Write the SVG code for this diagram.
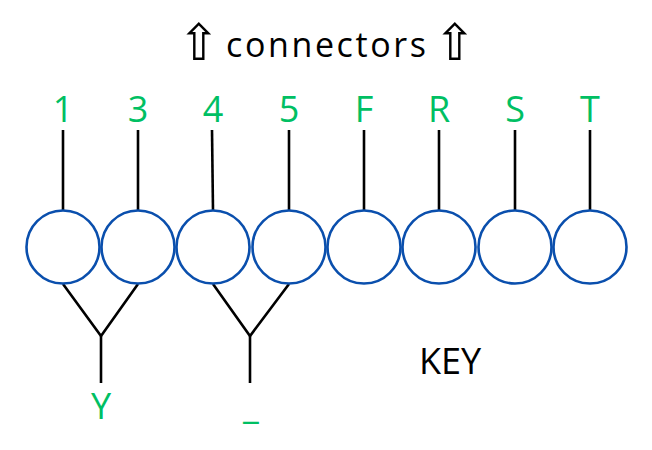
<svg xmlns="http://www.w3.org/2000/svg" width="652" height="450" viewBox="0 0 652 450">
<style>
.c{fill:#fff;stroke:#0a4fad;stroke-width:2.6}
.w{stroke:#000;stroke-width:2.6;fill:none;stroke-linecap:butt}
.g{fill:#00bf63;font-family:"Open Sans","Liberation Sans",sans-serif;font-size:36px;text-anchor:middle}
.k{fill:#000;font-family:"Open Sans","Liberation Sans",sans-serif;font-size:36px}
.a{fill:#000;font-family:"DejaVu Sans",sans-serif;font-size:50px;text-anchor:middle}
</style>
<rect width="652" height="450" fill="#fff"/>
<g id="title">
<text class="a" x="199" y="60">⇧</text>
<text class="k" x="226" y="57" textLength="200" lengthAdjust="spacing" style="font-size:34px">connectors</text>
<text class="a" x="455" y="60">⇧</text>
</g>
<g id="connectors">
<line class="w" x1="63" y1="130" x2="63" y2="211"/>
<line class="w" x1="138" y1="130" x2="138" y2="211"/>
<line class="w" x1="212" y1="130" x2="213" y2="211"/>
<line class="w" x1="289" y1="130" x2="289" y2="211"/>
<line class="w" x1="364" y1="130" x2="364" y2="211"/>
<line class="w" x1="439" y1="130" x2="439" y2="211"/>
<line class="w" x1="515" y1="130" x2="515" y2="211"/>
<line class="w" x1="590" y1="130" x2="590" y2="211"/>
<polyline class="w" points="63,284 101,336 138,284"/>
<line class="w" x1="101" y1="336" x2="101" y2="383"/>
<polyline class="w" points="213,284 250,336 289,284"/>
<line class="w" x1="250" y1="336" x2="250" y2="383"/>
</g>
<g id="n1"><circle class="c" cx="63" cy="247" r="36.5"/><text class="g" x="63" y="122">1</text></g>
<g id="n3"><circle class="c" cx="138" cy="247" r="36.5"/><text class="g" x="138" y="122">3</text></g>
<g id="n4"><circle class="c" cx="213" cy="247" r="36.5"/><text class="g" x="213" y="122">4</text></g>
<g id="n5"><circle class="c" cx="289" cy="247" r="36.5"/><text class="g" x="289" y="122">5</text></g>
<g id="nF"><circle class="c" cx="364" cy="247" r="36.5"/><text class="g" x="364" y="122">F</text></g>
<g id="nR"><circle class="c" cx="439" cy="247" r="36.5"/><text class="g" x="439" y="122">R</text></g>
<g id="nS"><circle class="c" cx="515" cy="247" r="36.5"/><text class="g" x="515" y="122">S</text></g>
<g id="nT"><circle class="c" cx="590" cy="247" r="36.5"/><text class="g" x="590" y="122">T</text></g>
<g id="lY"><text class="g" x="101" y="419">Y</text></g>
<g id="lU"><text class="g" x="251" y="419">_</text></g>
<g id="key"><text class="k" x="419" y="374">KEY</text></g>
</svg>
